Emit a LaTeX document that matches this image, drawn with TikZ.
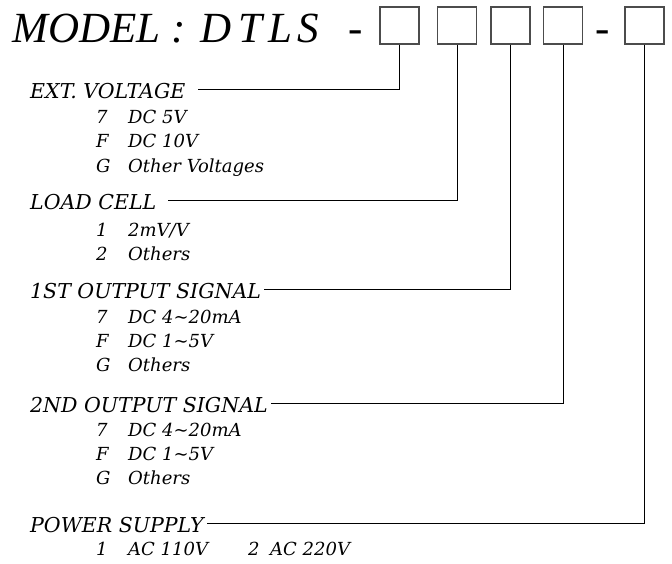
\documentclass[tikz,border=0pt]{standalone}
\usepackage{fontspec}
\setmainfont{DejaVu Serif}
\newfontfamily\titlefont{Liberation Serif}
\usepackage{tikz}
\usetikzlibrary{positioning}

\begin{document}
\begin{tikzpicture}[x=1pt, y=-1pt,
		title/.style={font=\titlefont\fontsize{43}{46}\selectfont\itshape, inner sep=0pt, anchor=base west},
		slot/.style={draw=black!70, line width=1.3pt, minimum width=39pt, minimum height=37pt, inner sep=0pt},
		head/.style={font=\fontsize{20.5}{23}\selectfont\itshape, inner xsep=3pt, inner ysep=0pt, text height=18pt, text depth=0pt, anchor=base west},
		opt/.style={font=\fontsize{18}{20}\selectfont\itshape, inner sep=0pt, anchor=base west},
		lead/.style={line width=0.8pt}]
	\useasboundingbox (0,0) rectangle (672,563);
	% model code
	\node[title] (model) at (12,42) {MODEL :};
	\foreach \ch/\x [count=\i] in {D/200, T/238, L/268, S/297}
		\node[title] (code\i) at (\x,42) {\ch};
	\node[title, anchor=base] (dash1) at (356,42) {-};
	\node[title, anchor=base] (dash2) at (603,42) {-};
	\foreach \x [count=\i] in {399.5, 457, 510.5, 563, 644.5}
		\node[slot] (b\i) at (\x,25.5) {};
	% headings
	\node[head] (ext) at (27,98) {EXT. VOLTAGE};
	\node[head] (load) at (27,209) {LOAD CELL};
	\node[head] (out1) at (27,298) {1ST OUTPUT SIGNAL};
	\node[head] (out2) at (27,412) {2ND OUTPUT SIGNAL};
	\node[head] (pwr) at (27,532) {POWER SUPPLY};
	% leads
	\draw[lead] (b1.south) |- ([xshift=9pt]ext.east);
	\draw[lead] (b2.south) |- ([xshift=9pt]load.east);
	\draw[lead] (b3.south) |- (out1.east);
	\draw[lead] (b4.south) |- (out2.east);
	\draw[lead] (b5.south) |- (pwr.east);
	% options
	\foreach \k/\v/\y [count=\i] in {7/DC 5V/123, F/DC 10V/147, G/Other Voltages/172} {
		\node[opt] (ext-k\i) at (96,\y) {\k};
		\node[opt] (ext-v\i) at (128,\y) {\v};
	}
	\foreach \k/\v/\y [count=\i] in {1/{2mV/V}/236, 2/Others/260} {
		\node[opt] (load-k\i) at (96,\y) {\k};
		\node[opt] (load-v\i) at (128,\y) {\v};
	}
	\foreach \k/\v/\y [count=\i] in {7/DC 4\textasciitilde 20mA/323, F/DC 1\textasciitilde 5V/347, G/Others/371} {
		\node[opt] (out1-k\i) at (96,\y) {\k};
		\node[opt] (out1-v\i) at (128,\y) {\v};
	}
	\foreach \k/\v/\y [count=\i] in {7/DC 4\textasciitilde 20mA/436, F/DC 1\textasciitilde 5V/460, G/Others/484} {
		\node[opt] (out2-k\i) at (96,\y) {\k};
		\node[opt] (out2-v\i) at (128,\y) {\v};
	}
	\node[opt] (pwr-k1) at (96,555) {1};
	\node[opt] (pwr-v1) at (128,555) {AC 110V};
	\node[opt] (pwr-k2) at (248,555) {2};
	\node[opt] (pwr-v2) at (270,555) {AC 220V};
\end{tikzpicture}
\end{document}
